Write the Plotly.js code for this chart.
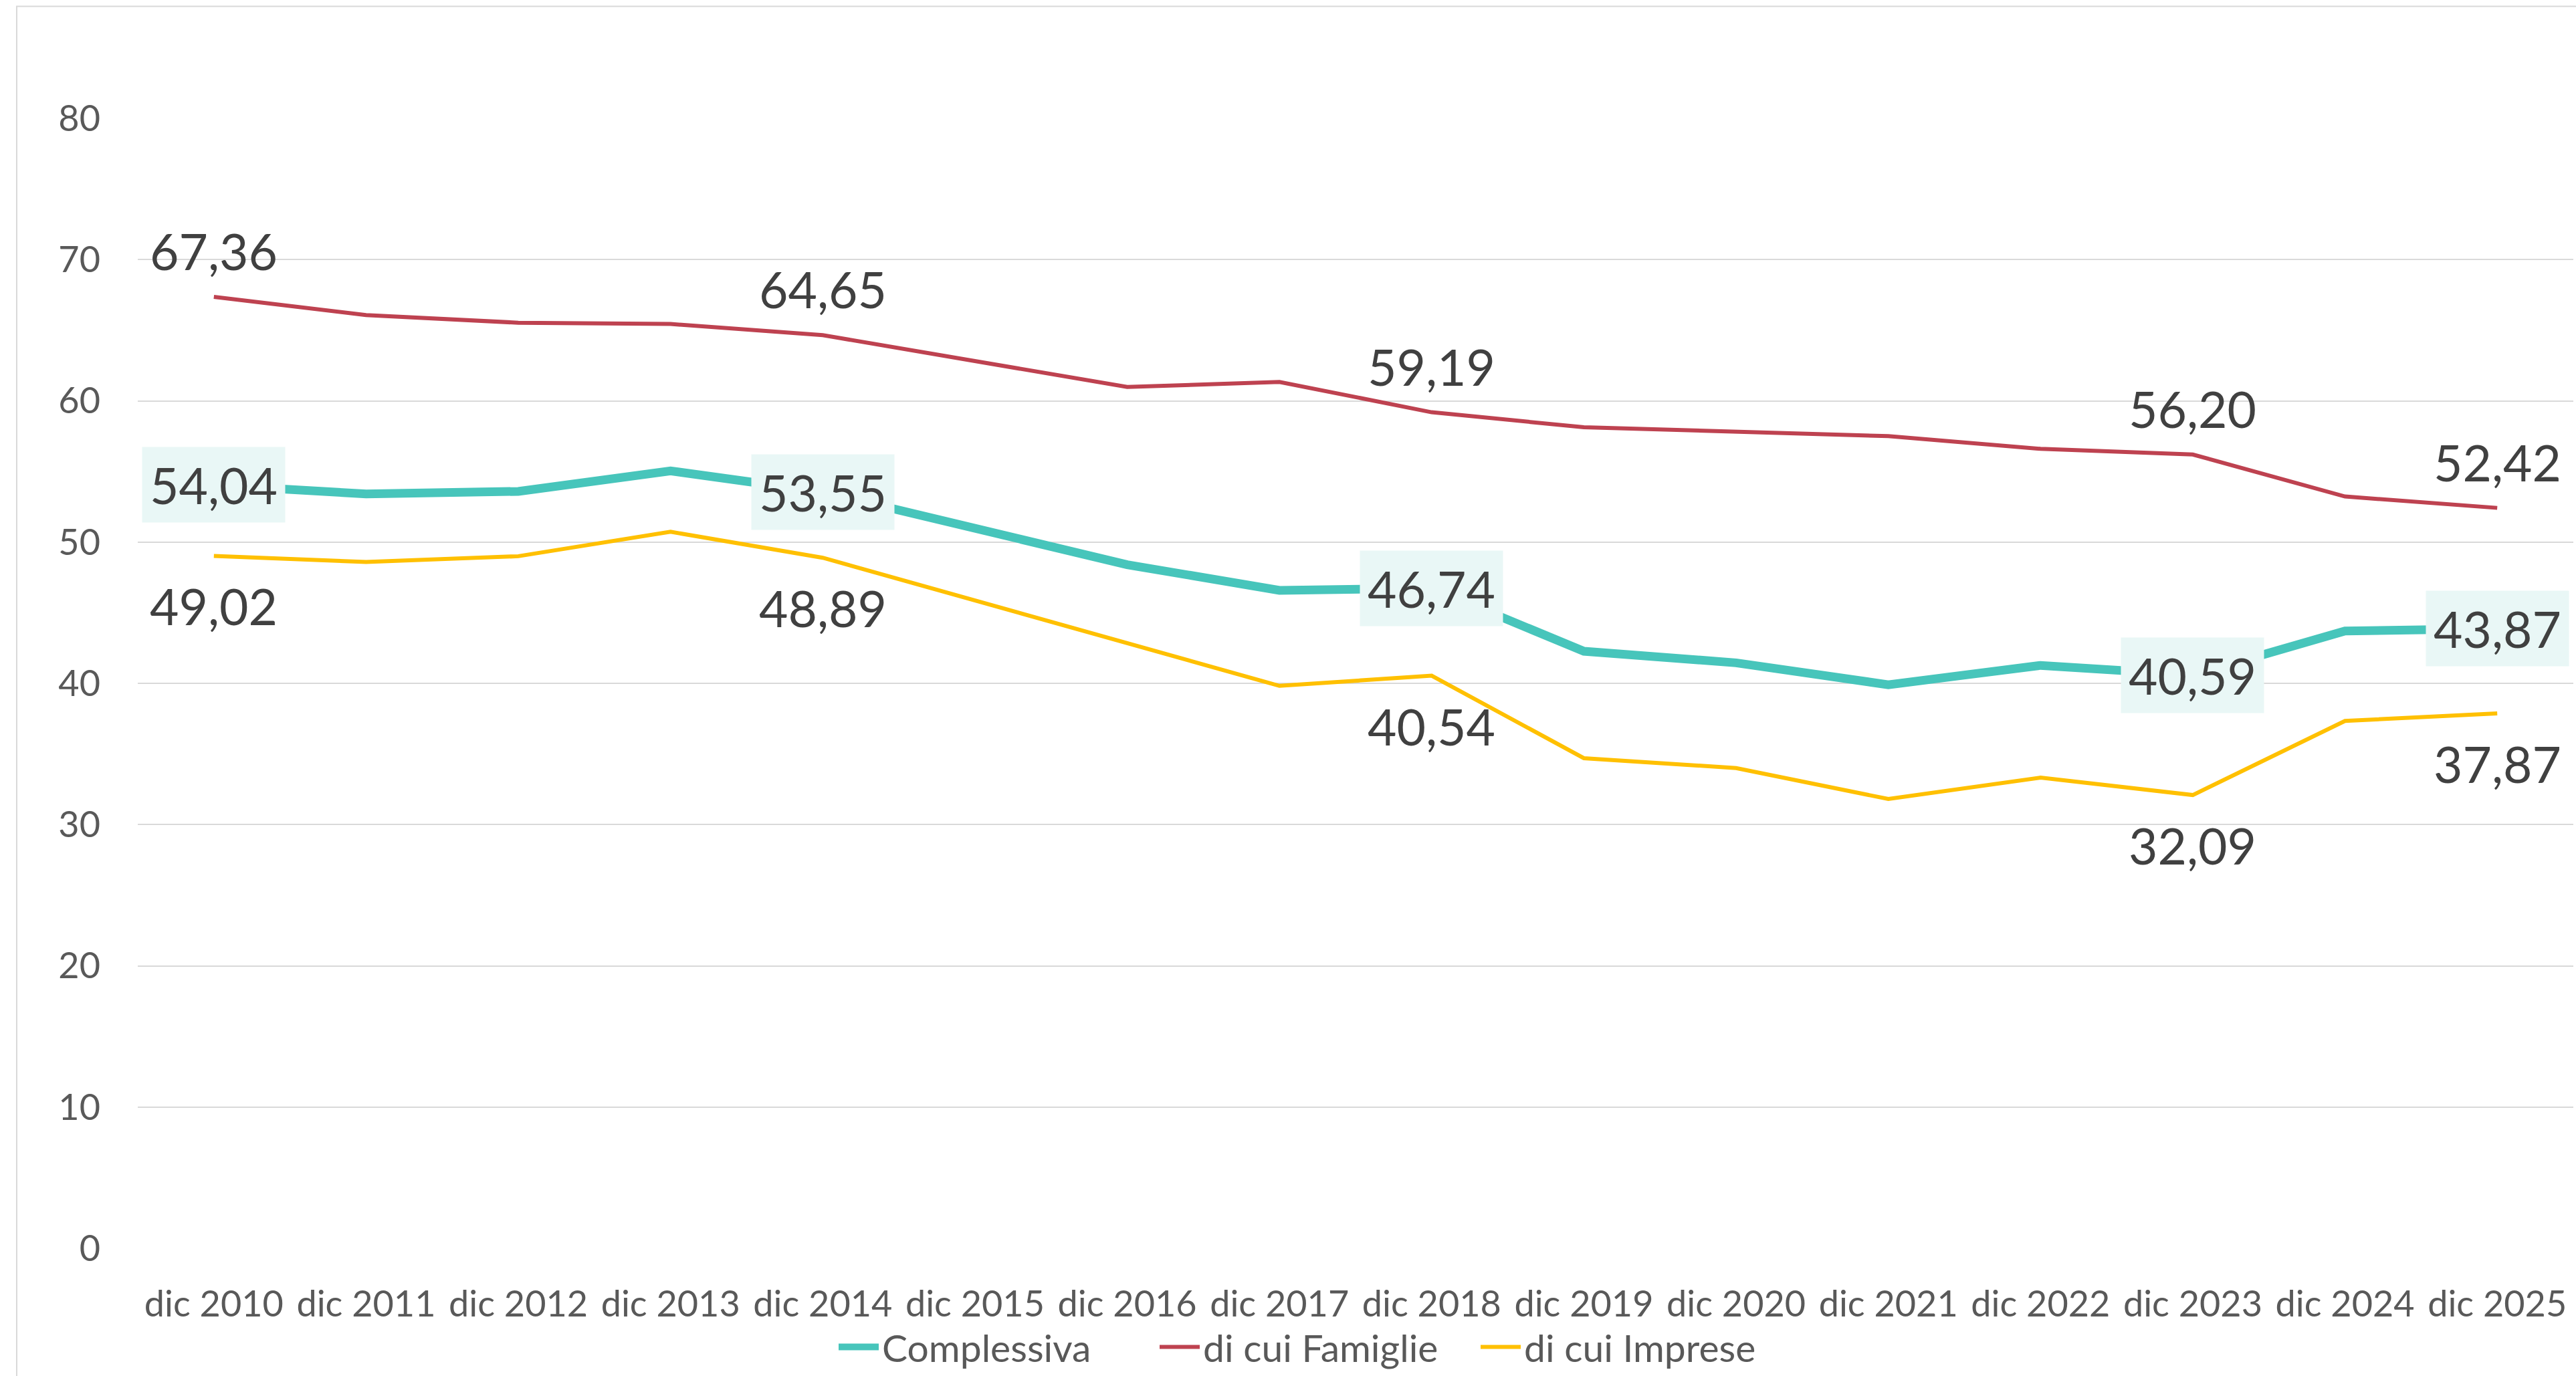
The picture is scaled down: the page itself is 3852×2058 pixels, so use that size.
<!DOCTYPE html>
<html>
<head>
<meta charset="utf-8">
<script src="https://cdn.plot.ly/plotly-3.0.1.min.js"></script>
<style>
html,body{margin:0;padding:0;background:#ffffff;}
#chart{width:3852px;height:2058px;}
</style>
</head>
<body>
<div id="chart"></div>
<script>
// ---- data ----
const categories = ['dic 2010','dic 2011','dic 2012','dic 2013','dic 2014','dic 2015','dic 2016','dic 2017',
                    'dic 2018','dic 2019','dic 2020','dic 2021','dic 2022','dic 2023','dic 2024','dic 2025'];
const complessiva = [54.04, 53.41, 53.59, 55.04, 53.55, 51.00, 48.40, 46.58, 46.74, 42.27, 41.45, 39.90, 41.27, 40.59, 43.70, 43.87];
const famiglie    = [67.36, 66.07, 65.53, 65.44, 64.65, 62.80, 60.98, 61.34, 59.19, 58.13, 57.80, 57.50, 56.60, 56.20, 53.23, 52.42];
const imprese     = [49.02, 48.59, 49.00, 50.73, 48.89, 45.85, 42.80, 39.82, 40.54, 34.70, 34.00, 31.81, 33.32, 32.09, 37.34, 37.87];
const seriesNames = ['Complessiva', 'di cui Famiglie', 'di cui Imprese'];
const labelIndices = [0, 4, 8, 13, 15];
const yTickValues = [0, 10, 20, 30, 40, 50, 60, 70, 80];

// ---- styles ----
const COL_TEAL = '#47C5BB';
const COL_RED = '#BE4250';
const COL_YEL = '#FFC000';
const FONT = 'Lato, "Open Sans", sans-serif';

function fmt(v){ return v.toFixed(2).replace('.', ','); }

const traces = [
  {x: categories, y: complessiva, name: seriesNames[0], type: 'scatter', mode: 'lines',
   line: {color: COL_TEAL, width: 13}},
  {x: categories, y: famiglie, name: seriesNames[1], type: 'scatter', mode: 'lines',
   line: {color: COL_RED, width: 6}},
  {x: categories, y: imprese, name: seriesNames[2], type: 'scatter', mode: 'lines',
   line: {color: COL_YEL, width: 6}}
];

const annotations = [];
labelIndices.forEach(i => {
  annotations.push({x: categories[i], y: famiglie[i], xref: 'x', yref: 'y', text: fmt(famiglie[i]),
    showarrow: false, yshift: 69, font: {family: FONT, size: 75, color: '#404040'}});
  annotations.push({x: categories[i], y: imprese[i], xref: 'x', yref: 'y', text: fmt(imprese[i]),
    showarrow: false, yshift: -75, font: {family: FONT, size: 75, color: '#404040'}});
  annotations.push({x: categories[i], y: complessiva[i], xref: 'x', yref: 'y', text: fmt(complessiva[i]),
    showarrow: false, bgcolor: '#E9F7F6', borderpad: 11, font: {family: FONT, size: 75, color: '#404040'}});
});

const plotL = 206, plotR = 3848, plotT = 177, plotB = 1867;
const W = 3852, H = 2058;
const pw = plotR - plotL, ph = plotB - plotT;

const layout = {
  width: W, height: H,
  paper_bgcolor: '#ffffff', plot_bgcolor: '#ffffff',
  margin: {l: plotL, r: W - plotR, t: plotT, b: H - plotB, pad: 0},
  font: {family: FONT, color: '#595959', size: 54},
  showlegend: true,
  legend: {orientation: 'h', xref: 'container', yref: 'container', x: 1969 / W, xanchor: 'center',
           y: 1 - 2015 / H, yanchor: 'middle', font: {family: FONT, size: 57, color: '#595959'},
           itemwidth: 60, entrywidth: 405, entrywidthmode: 'pixels', bgcolor: 'rgba(0,0,0,0)'},
  xaxis: {type: 'category', showgrid: false, zeroline: false, showline: false, ticks: '',
          tickangle: 0, tickfont: {family: FONT, size: 54, color: '#595959'}, ticklabelstandoff: 47,
          range: [-0.5, categories.length - 0.5], fixedrange: true},
  yaxis: {range: [0, 80], tickvals: yTickValues, ticktext: yTickValues.map(String), showgrid: true,
          gridcolor: '#D9D9D9', gridwidth: 2, zeroline: false, showline: false, ticks: '',
          tickfont: {family: FONT, size: 54, color: '#595959'}, ticklabelstandoff: 55, fixedrange: true},
  annotations: annotations,
  shapes: [{type: 'rect', xref: 'paper', yref: 'paper',
            x0: (25 - plotL) / pw, x1: (W + 20 - plotL) / pw,
            y0: (plotB - (H + 20)) / ph, y1: (plotB - 9.5) / ph,
            line: {color: '#D9D9D9', width: 2}, fillcolor: 'rgba(0,0,0,0)', layer: 'below'}]
};

Plotly.newPlot('chart', traces, layout, {staticPlot: true, displayModeBar: false});
</script>
</body>
</html>
